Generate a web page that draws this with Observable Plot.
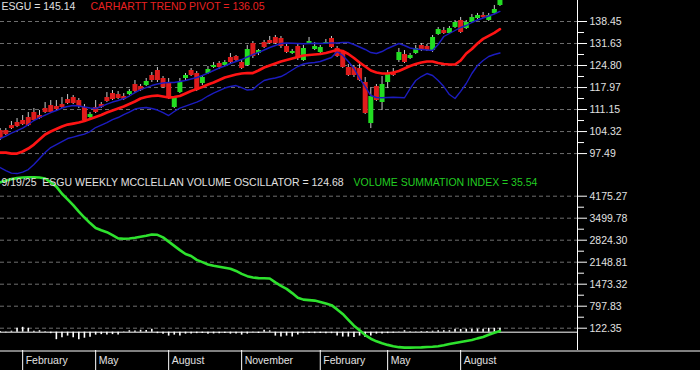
<!DOCTYPE html>
<html><head><meta charset="utf-8">
<script src="https://cdn.jsdelivr.net/npm/d3@7"></script>
<script src="https://cdn.jsdelivr.net/npm/@observablehq/plot@0.6"></script>
<style>
html,body{margin:0;padding:0;background:#000;}
#chart{width:700px;height:370px;background:#000;overflow:hidden;}
#chart svg{display:block;}
</style></head><body><div id="chart"></div>
<script>
// ---- data (weekly bars, 1/5/24 .. 9/19/25) ----
const lastDate = "9/19/25";
const symbol = "ESGU";
const opens = [
104.63,104.63,106.18,107.12,107.74,108.67,110.22,109.29,111.46,112.39,
112.08,112.70,114.25,114.87,113.94,111.77,108.67,111.77,112.70,114.87,
116.11,115.80,115.18,115.80,118.91,118.28,118.59,121.70,123.25,120.77,
119.22,111.77,116.42,120.77,123.25,122.32,119.22,122.32,124.18,125.42,
124.80,127.28,127.59,125.73,124.80,131.63,128.52,131.94,132.56,133.49,
133.18,130.70,128.52,130.70,126.35,131.63,129.77,128.83,131.63,133.18,
130.08,128.83,124.18,124.18,123.87,119.53,106.80,118.28,113.32,119.53,
122.63,126.35,128.21,126.97,128.52,131.01,130.70,129.45,134.42,135.66,
134.73,136.59,138.76,136.28,138.14,139.38,140.32,138.76,140.94,143.42];
const highs = [
105.25,105.25,107.43,108.36,109.29,110.22,111.46,110.84,113.32,113.94,
113.94,114.87,115.80,115.49,114.56,112.70,110.22,113.94,113.32,116.42,
117.04,116.73,116.11,117.35,120.15,118.91,120.77,122.63,124.18,121.39,
120.77,115.18,120.77,122.32,123.87,122.94,121.70,124.49,125.73,126.04,
126.35,128.52,127.90,126.35,131.01,132.25,129.77,132.56,133.80,134.11,
133.80,131.32,129.77,131.32,131.01,133.49,131.94,131.01,132.87,133.80,
130.70,129.45,125.11,124.80,125.73,121.08,117.97,118.91,121.39,123.25,
123.87,130.08,129.45,128.52,131.01,131.63,131.32,134.11,136.59,136.59,
136.90,138.76,139.70,138.76,140.63,140.94,141.25,140.94,143.42,145.60];
const lows = [
101.53,103.08,104.94,105.56,106.18,105.87,107.43,108.05,109.91,109.91,
110.84,111.46,112.70,112.70,111.46,107.12,108.36,109.91,111.46,113.32,
113.94,114.25,113.94,115.49,116.42,116.73,118.28,119.53,119.53,117.66,
114.25,111.46,116.11,120.15,121.39,116.73,118.59,122.01,123.87,123.56,
124.49,125.42,125.73,123.56,124.49,126.97,127.90,130.08,131.32,131.32,
130.08,128.52,128.21,126.35,126.04,131.32,129.45,128.52,131.32,130.08,
127.28,123.87,121.39,121.08,119.84,109.60,105.25,113.63,110.84,117.66,
121.39,125.73,125.42,126.66,128.21,129.14,129.14,128.83,134.11,134.42,
134.42,136.28,134.73,135.97,137.83,139.07,139.38,138.45,140.63,143.11];
const closes = [
102.15,103.39,105.25,105.87,106.49,106.18,107.74,108.36,110.22,110.22,
111.15,111.77,113.01,113.01,112.08,107.74,109.60,110.22,111.77,113.63,
114.25,114.56,114.25,116.73,116.73,117.04,119.84,120.15,120.15,117.97,
114.56,114.87,119.53,121.70,121.70,117.04,121.08,123.56,124.80,124.18,
125.73,125.73,126.35,123.87,129.77,127.59,129.45,130.39,131.63,131.63,
130.70,128.83,129.14,126.97,130.08,132.25,130.70,130.39,131.94,130.39,
127.59,124.18,121.70,121.70,120.15,109.91,115.18,113.94,118.91,122.32,
121.70,128.83,125.73,127.90,130.08,129.45,129.45,133.49,135.97,134.73,
136.28,138.14,135.04,138.14,139.70,140.32,139.70,140.32,142.18,145.14];
const trendPivot = [
97.80,97.80,97.49,97.49,98.12,99.05,100.29,101.84,103.39,104.32,
105.10,105.87,106.49,106.80,107.12,107.58,108.20,108.82,109.44,110.22,
110.84,111.46,112.08,112.85,113.63,114.56,115.03,115.34,115.49,115.18,
114.87,115.03,115.34,116.11,116.89,117.51,118.13,118.91,119.53,120.30,
121.08,121.54,122.01,122.32,122.47,122.47,123.25,124.18,124.80,125.42,
126.04,126.51,126.97,127.44,127.90,128.06,128.21,128.37,128.68,129.14,
129.61,129.30,128.37,127.13,125.73,124.49,123.25,122.63,122.32,122.32,
122.63,123.09,123.87,124.65,125.27,125.73,126.04,126.04,125.58,125.27,
125.11,125.11,126.35,128.52,129.92,131.63,133.07,133.99,134.92,136.05];
const upperBand = [
102.15,102.92,103.85,104.63,105.41,106.49,107.73,108.67,109.44,110.22,
110.84,111.61,112.08,112.39,112.24,111.92,111.61,111.46,112.08,112.85,
113.47,113.94,114.56,115.34,116.42,117.35,117.97,118.59,119.06,119.37,
119.53,119.53,119.84,120.15,120.61,121.08,121.70,122.47,123.25,124.02,
124.65,125.42,126.04,126.66,127.44,128.21,128.83,129.61,130.39,131.01,
131.63,131.78,131.70,131.63,131.55,131.63,131.70,131.63,131.70,131.78,
131.78,131.94,131.94,131.32,130.54,129.77,128.83,128.52,129.14,130.08,
130.85,131.63,131.01,130.23,129.92,129.77,129.61,129.45,131.32,133.80,
134.73,135.66,136.59,137.21,138.14,138.92,139.54,140.16,140.78,141.56];
const lowerBand = [
93.15,92.22,91.44,91.29,91.75,92.53,94.08,95.94,97.80,99.36,
100.29,101.22,102.15,102.61,103.08,103.54,104.32,105.56,106.34,107.11,
108.04,108.67,109.60,110.37,111.30,111.61,111.77,111.46,110.99,110.22,
109.29,110.53,111.61,112.23,112.85,113.47,114.25,115.34,116.27,117.04,
117.82,118.28,118.59,117.97,117.20,117.35,118.91,120.15,120.61,120.92,
121.39,122.32,123.40,124.49,125.27,125.58,125.73,126.04,126.66,127.28,
129.14,127.90,126.04,123.87,120.77,118.28,115.49,114.87,114.80,114.87,
114.95,114.87,114.80,117.66,120.15,121.39,122.32,121.70,120.15,118.28,
115.80,114.56,116.79,119.22,122.32,124.80,126.35,127.59,128.21,128.68];
const volumeSummation = [
4600,4650,4700,4730,4750,4755,4755,4750,4720,4600,
4470,4250,4080,3900,3700,3520,3350,3200,3130,3070,
2980,2880,2870,2875,2900,2930,2960,3000,2990,2910,
2780,2650,2520,2400,2340,2220,2150,2080,2040,2010,
1980,1950,1880,1790,1720,1680,1660,1655,1650,1530,
1420,1330,1200,1060,1000,985,970,930,880,830,
700,560,380,200,60,-90,-200,-280,-340,-390,
-430,-460,-475,-475,-470,-465,-455,-445,-430,-400,
-360,-330,-300,-270,-240,-190,-150,-80,-20,35.54];
const oscillator = [
20,-20,30,120,150,120,30,45,10,-45,
-230,-170,-120,-170,-230,-185,-155,-90,-75,-90,
-75,-90,-10,45,40,60,55,90,-45,-60,
-120,-90,-120,-60,-55,-45,-40,-60,-55,-45,
-40,-60,-55,-90,-60,-20,-40,60,40,-120,
-150,-120,-150,-90,-45,-40,-45,-40,-45,-45,
-120,-150,-150,-165,-120,-165,-120,-60,-55,-45,
-30,-10,45,10,10,20,20,30,45,45,
45,90,85,90,90,95,90,120,120,124.68];
const priceTicks = [97.49,104.32,111.15,117.97,124.80,131.63,138.45];
const vsiTicks = [122.35,797.83,1473.32,2148.81,2824.30,3499.78,4175.27];
const monthLabels = ["February","May","August","November","February","May","August"];
const monthBarIndex = [4,17,30,43,57,69,82];

// ---- layout/style ----
const FONT = "'Liberation Sans', Arial, sans-serif";
const FS = 10.5;
const RED = "#ff1414", CRED = "#e01c1c", CGREEN = "#22dd22", BLUE = "#1c1cc0", VGREEN = "#2ee22e";
const TXT = "#e0e0e0";
const xDomain = [0.053, 102.81];
const n = closes.length;
const idx = d3.range(n);
const candles = idx.map(i => ({i, o: opens[i], h: highs[i], l: lows[i], c: closes[i]}));
const minor = t => d3.pairs(t, (a, b) => (a + b) / 2);
const base = (h) => ({
  width: 700, height: h, marginLeft: 0, marginRight: 123, marginTop: 0, marginBottom: 0,
  style: {background: "#000", color: TXT, fontFamily: FONT, fontSize: FS + "px"},
  x: {domain: xDomain, axis: null},
  color: {type: "identity"}
});
const grid = t => Plot.gridY(t, {stroke: "#7a7a7a", strokeOpacity: 0.9, strokeDasharray: "4,3"});
const axes = (t) => [
  Plot.axisY(t, {anchor: "right", tickSize: 9, tickPadding: 3, tickFormat: d => d.toFixed(2), stroke: "#fff", fill: TXT, fontSize: FS, fontFamily: FONT}),
  Plot.axisY(minor(t), {anchor: "right", tickSize: 6, tickFormat: () => "", stroke: "#fff"}),
  Plot.ruleX([xDomain[1]], {stroke: "#fff"})
];
const label = (s, dx, dy, fill) => Plot.text([s], {frameAnchor: "top-left", dx, dy, text: d => d, fill, fontSize: FS, fontFamily: FONT, textAnchor: "start", lineAnchor: "middle"});

const topPlot = Plot.plot({
  ...base(176),
  y: {domain: [90.379, 144.963], axis: null},
  marks: [
    grid(priceTicks),
    Plot.ruleX(candles, {x: "i", y1: "l", y2: "h", stroke: "#c8c8c8", strokeWidth: 1, clip: true}),
    Plot.ruleX(candles, {x: "i", y1: "o", y2: "c", stroke: d => d.c >= d.o ? CGREEN : CRED, strokeWidth: 5, clip: true}),
    Plot.line(idx, {x: i => i, y: i => upperBand[i], stroke: BLUE, strokeWidth: 1.4, clip: true}),
    Plot.line(idx, {x: i => i, y: i => lowerBand[i], stroke: BLUE, strokeWidth: 1.4, clip: true}),
    Plot.line(idx, {x: i => i, y: i => trendPivot[i], stroke: RED, strokeWidth: 2.7, clip: true}),
    ...axes(priceTicks),
    label(`${symbol} = ${closes[n-1].toFixed(2)}`, 1, 6, TXT),
    label(`CARHARTT TREND PIVOT = ${trendPivot[n-1].toFixed(2)}`, 90, 6, "#e82020")
  ]
});

const botPlot = Plot.plot({
  ...base(174),
  y: {domain: [-562.3, 4780.2], axis: null},
  marks: [
    grid(vsiTicks),
    Plot.ruleY([0], {stroke: "#fff"}),
    Plot.ruleX(idx, {x: i => i, y1: 0, y2: i => oscillator[i], stroke: "#fff", strokeWidth: 1.6}),
    Plot.line(idx, {x: i => i, y: i => volumeSummation[i], stroke: VGREEN, strokeWidth: 2.6, clip: true}),
    ...axes(vsiTicks),
    label(`${lastDate}  ${symbol} WEEKLY MCCLELLAN VOLUME OSCILLATOR = ${oscillator[n-1].toFixed(2)}`, 1, 6, TXT),
    label(`VOLUME SUMMATION INDEX = ${volumeSummation[n-1].toFixed(2)}`, 353, 6, "#22cc22")
  ]
});

const axisPlot = Plot.plot({
  width: 700, height: 20, marginLeft: 0, marginRight: 0, marginTop: 0, marginBottom: 0,
  style: {background: "#000", color: TXT, fontFamily: FONT, fontSize: FS + "px"},
  x: {domain: xDomain, range: [0, 577], axis: null},
  y: {domain: [0, 20], range: [0, 20], axis: null},
  marks: [
    Plot.ruleY([0.5], {stroke: "#fff"}),
    Plot.ruleX(monthBarIndex, {x: d => d, y1: 0, y2: 20, stroke: "#fff"}),
    Plot.text(monthBarIndex, {x: d => d, y: 10.5, text: (d, i) => monthLabels[i], dx: 3, textAnchor: "start", fill: TXT, fontSize: FS, fontFamily: FONT})
  ]
});

document.getElementById("chart").append(topPlot, botPlot, axisPlot);
</script></body></html>
